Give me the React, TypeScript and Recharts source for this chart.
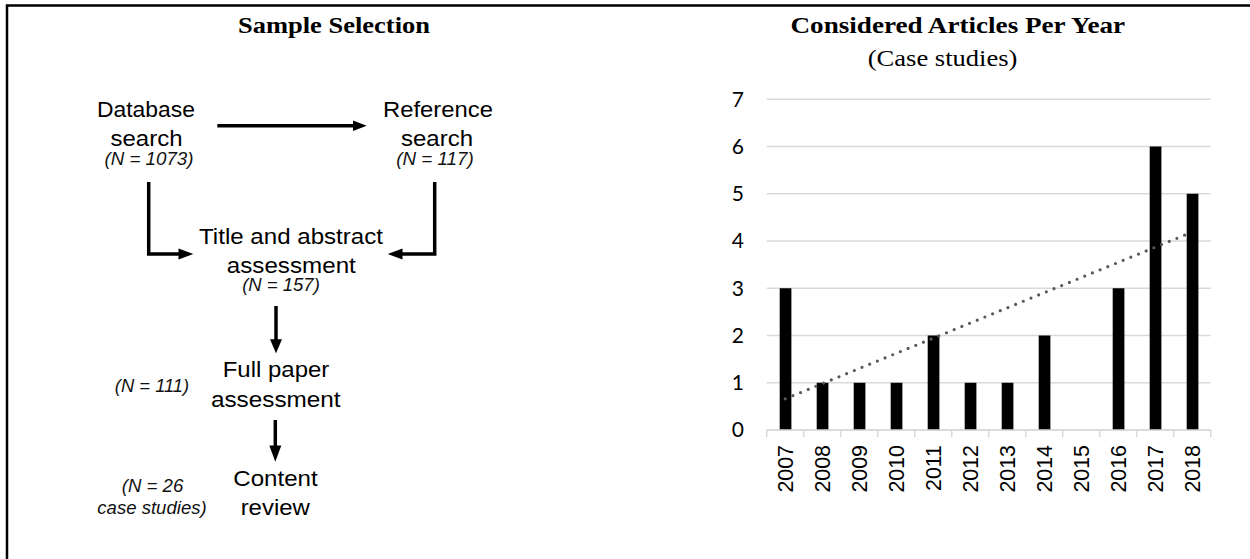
import React from 'react';
import { ComposedChart, Bar, Line, XAxis, YAxis, CartesianGrid } from 'recharts';

// ---- data ----
const years = ['2007', '2008', '2009', '2010', '2011', '2012', '2013', '2014', '2015', '2016', '2017', '2018'];
const articleCounts = [3, 1, 1, 1, 2, 1, 1, 2, 0, 3, 6, 5];
const trendValues: (number | null)[] = [0.66, null, null, null, null, null, null, null, null, null, null, 4.19];
const yTicks = [0, 1, 2, 3, 4, 5, 6, 7];

const chartTitle = 'Considered Articles Per Year';
const chartSubtitle = '(Case studies)';
const flowTitle = 'Sample Selection';

const data = years.map((year, i) => ({ year, count: articleCounts[i], trend: trendValues[i] }));

// ---- layout ----
const CHART_LEFT = 700;
const CHART_W = 550;
const CHART_H = 559;
const MARGIN = { top: 99.3, right: 39.3, bottom: 49, left: 0 };
const Y_AXIS_W = 66.7;
const X_AXIS_H = 80;
const PLOT_W = CHART_W - MARGIN.left - MARGIN.right - Y_AXIS_W;
const BAND = PLOT_W / years.length;
const GRID = '#d9d9d9';

const SANS = "'Liberation Sans', Arial, sans-serif";
const SERIF = "'Liberation Serif', 'Times New Roman', serif";

const YearTick = (props: any) => {
  const { x, y, payload, index } = props;
  const fs = 21.4;
  return (
    <g>
      <line x1={x - BAND / 2} x2={x - BAND / 2} y1={y} y2={y + 7} stroke={GRID} strokeWidth={1.5} />
      {index === years.length - 1 && (
        <line x1={x + BAND / 2} x2={x + BAND / 2} y1={y} y2={y + 7} stroke={GRID} strokeWidth={1.5} />
      )}
      <text
        transform={`translate(${x + 0.358 * fs}, ${y + 15}) rotate(-90)`}
        textAnchor="end"
        fontFamily={SANS}
        fontSize={fs}
        fill="#000"
      >
        {payload.value}
      </text>
    </g>
  );
};

type FlowText = { t: string; x: number; y: number; w: number; it?: boolean };
const flowTexts: FlowText[] = [
  { t: 'Database', x: 146, y: 116.7, w: 98 },
  { t: 'search', x: 146.5, y: 145.7, w: 72 },
  { t: '(N = 1073)', x: 149, y: 164.7, w: 89, it: true },
  { t: 'Reference', x: 438, y: 116.7, w: 110 },
  { t: 'search', x: 437, y: 145.7, w: 72 },
  { t: '(N = 117)', x: 435, y: 164.7, w: 77.5, it: true },
  { t: 'Title and abstract', x: 291, y: 244.3, w: 184 },
  { t: 'assessment', x: 291.3, y: 272.7, w: 129 },
  { t: '(N = 157)', x: 281, y: 291.4, w: 77.7, it: true },
  { t: 'Full paper', x: 276, y: 377, w: 106.6 },
  { t: 'assessment', x: 275.8, y: 406.7, w: 129.7 },
  { t: '(N = 111)', x: 152, y: 391.5, w: 74.3, it: true },
  { t: 'Content', x: 275.5, y: 486.3, w: 84.4 },
  { t: 'review', x: 275.3, y: 515, w: 69.3 },
  { t: '(N = 26', x: 152.5, y: 491.5, w: 61.6, it: true },
  { t: 'case studies)', x: 152, y: 514, w: 109.4, it: true },
];

const ARROW_W = 3.5;

function Overlay() {
  return (
    <svg width={1250} height={559} style={{ position: 'absolute', left: 0, top: 0 }}>
      {/* frame */}
      <path d="M7 559 L7 5.5 L1250 5.5" fill="none" stroke="#000" strokeWidth={2.5} />

      {/* titles */}
      <text x={334} y={33} textAnchor="middle" fontFamily={SERIF} fontWeight="bold" fontSize={22.7}
        textLength={192} lengthAdjust="spacingAndGlyphs">{flowTitle}</text>
      <text x={957.8} y={33} textAnchor="middle" fontFamily={SERIF} fontWeight="bold" fontSize={22.7}
        textLength={334.6} lengthAdjust="spacingAndGlyphs">{chartTitle}</text>
      <text x={942.6} y={66.3} textAnchor="middle" fontFamily={SERIF} fontSize={22.7}
        textLength={149.7} lengthAdjust="spacingAndGlyphs">{chartSubtitle}</text>

      {/* flow texts */}
      {flowTexts.map((f, i) => (
        <text key={i} x={f.x} y={f.y} textAnchor="middle" fontFamily={SANS}
          fontSize={f.it ? 17.5 : 21.5} fontStyle={f.it ? 'italic' : 'normal'} fill={f.it ? '#111' : '#000'}
          textLength={f.w} lengthAdjust="spacingAndGlyphs">{f.t}</text>
      ))}

      {/* arrows */}
      <g stroke="#000" strokeWidth={ARROW_W} fill="none">
        <path d="M217.3 125.7 H355" />
        <path d="M148.7 182 V254 H181" />
        <path d="M434.7 182 V254 H400" />
        <path d="M276 306 V341" />
        <path d="M275.3 420 V447" />
      </g>
      <g fill="#000">
        <polygon points="366.7,125.7 353,120.4 353,131" />
        <polygon points="193.3,254 178.5,248.5 178.5,259.5" />
        <polygon points="387.7,254 402.5,248.5 402.5,259.5" />
        <polygon points="276,353.3 270,339.3 282,339.3" />
        <polygon points="275.3,461.7 269.3,445.5 281.3,445.5" />
      </g>
    </svg>
  );
}

export default function App() {
  return (
    <div style={{ position: 'relative', width: 1250, height: 559, background: '#fff', overflow: 'hidden' }}>
      <style>{'html,body{margin:0;padding:0;background:#fff}'}</style>
      <Overlay />
      <div style={{ position: 'absolute', left: CHART_LEFT, top: 0 }}>
        <ComposedChart width={CHART_W} height={CHART_H} data={data} margin={MARGIN}>
          <CartesianGrid vertical={false} stroke={GRID} strokeWidth={1.5} />
          <XAxis
            dataKey="year"
            interval={0}
            height={X_AXIS_H}
            axisLine={{ stroke: GRID, strokeWidth: 1.5 }}
            tickLine={false}
            tickSize={0}
            tickMargin={0}
            tick={<YearTick />}
          />
          <YAxis
            type="number"
            domain={[0, 7]}
            ticks={yTicks}
            width={Y_AXIS_W}
            axisLine={false}
            tickLine={false}
            tickSize={0}
            tickMargin={22.7}
            tick={{ fontFamily: 'Lato, sans-serif', fontSize: 21, fill: '#000' }}
          />
          <Bar dataKey="count" fill="#000" barSize={11.7} isAnimationActive={false} />
          <Line
            dataKey="trend"
            type="linear"
            connectNulls
            stroke="#595959"
            strokeWidth={3.2}
            strokeDasharray="0 8.3"
            strokeLinecap="round"
            dot={false}
            activeDot={false}
            isAnimationActive={false}
          />
        </ComposedChart>
      </div>
    </div>
  );
}
